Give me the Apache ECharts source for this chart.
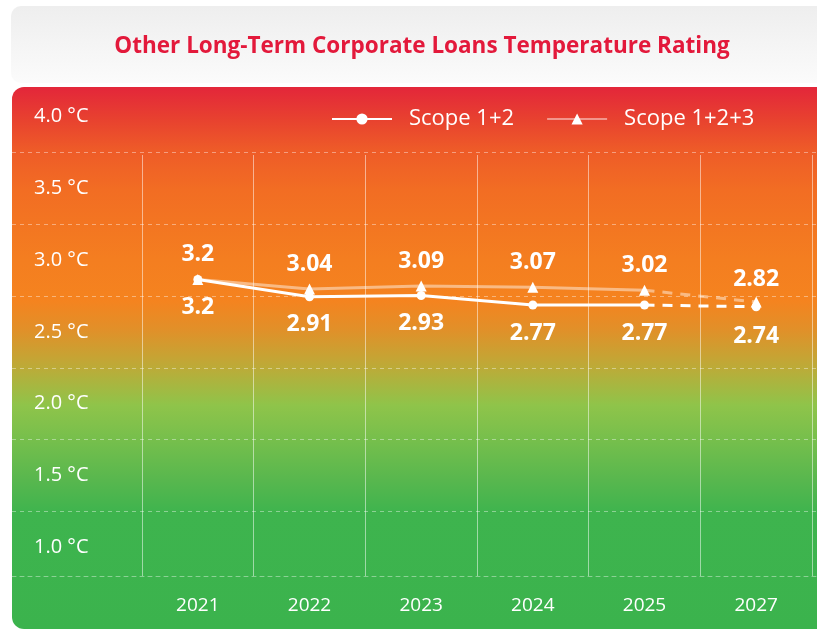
<!DOCTYPE html>
<html>
<head>
<meta charset="utf-8">
<title>Other Long-Term Corporate Loans Temperature Rating</title>
<script src="https://cdn.jsdelivr.net/npm/echarts@6/dist/echarts.min.js"></script>
<style>
    html, body { margin: 0; padding: 0; background: #fff; }
    #chart { width: 817px; height: 630px; }
</style>
</head>
<body>
<div id="chart"></div>
<script>
// 数据
var years = ['2021', '2022', '2023', '2024', '2025', '2027'];
var scope12 = [3.2, 2.91, 2.93, 2.77, 2.77, 2.74];
var scope123 = [3.2, 3.04, 3.09, 3.07, 3.02, 2.82];
var tempLabels = [1.0, 1.5, 2.0, 2.5, 3.0, 3.5, 4.0];
var tempBands = [1.25, 1.75, 2.25, 2.75, 3.25, 3.75];
var lastActual = 4; // 2025, after that the line is a projection (dashed)

(function () {
    var myChart = echarts.init(document.getElementById('chart'));
    var font = '"Open Sans", "DejaVu Sans", sans-serif';

    function solidPart(arr) {
        return arr.map(function (v, i) { return i <= lastActual ? v : '-'; });
    }
    function dashedPart(arr) {
        return arr.map(function (v, i) { return i >= lastActual ? v : '-'; });
    }
    function dashedSize(size) {
        return function (val, params) { return params.dataIndex === lastActual ? 0 : size; };
    }
    function valueLabel(onlyLast) {
        return function (p) {
            if (onlyLast && p.dataIndex === lastActual) return '';
            return String(p.value);
        };
    }

    var labelStyle = {
        color: '#fff',
        fontSize: 23,
        fontWeight: 'bold',
        fontFamily: font
    };

    var panelGradient = new echarts.graphic.LinearGradient(0, 0, 0, 1, [
        {offset: 0, color: '#e3263a'},
        {offset: 0.061, color: '#e8422f'},
        {offset: 0.116, color: '#ee5b28'},
        {offset: 0.19, color: '#f26d23'},
        {offset: 0.319, color: '#f47e20'},
        {offset: 0.393, color: '#f5831f'},
        {offset: 0.448, color: '#e19029'},
        {offset: 0.518, color: '#bcab38'},
        {offset: 0.587, color: '#8fc44a'},
        {offset: 0.651, color: '#76bf4c'},
        {offset: 0.725, color: '#58b74e'},
        {offset: 0.786, color: '#3eb44e'},
        {offset: 1, color: '#3bb34d'}
    ]);

    var option = {
        animation: false,
        graphic: [
            {
                type: 'rect', z: -20, silent: true,
                shape: {x: 11, y: 6, width: 840, height: 77, r: 10},
                style: {fill: new echarts.graphic.LinearGradient(0, 0, 0, 1, [
                    {offset: 0, color: '#eeeeee'},
                    {offset: 1, color: '#fbfbfb'}
                ])}
            },
            {
                type: 'rect', z: -20, silent: true,
                shape: {x: 12, y: 87, width: 840, height: 542, r: 12},
                style: {fill: panelGradient}
            },
            {
                type: 'text', z: 10, silent: true,
                style: {
                    text: 'Other Long-Term Corporate Loans Temperature Rating',
                    x: 422, y: 47,
                    textAlign: 'center',
                    textVerticalAlign: 'middle',
                    fill: '#e3193b',
                    font: 'bold 22.5px ' + font
                }
            }
        ],
        legend: {
            data: ['Scope 1+2', 'Scope 1+2+3'],
            left: 326,
            top: 103,
            itemWidth: 60,
            itemHeight: 14,
            itemGap: 32,
            textStyle: {
                color: '#fff',
                fontSize: 22,
                fontFamily: font,
                padding: [0, 0, 0, 12]
            }
        },
        grid: [
            {left: 12, right: 0, top: 88, bottom: 54},
            {left: 142, right: 5, top: 155, bottom: 54}
        ],
        xAxis: [
            {
                gridIndex: 0,
                type: 'category',
                data: years,
                axisLine: {
                    lineStyle: {color: 'rgba(255,255,255,.4)', type: [4, 4]}
                },
                axisTick: {show: false},
                axisLabel: {show: false}
            },
            {
                gridIndex: 1,
                type: 'category',
                data: years,
                boundaryGap: true,
                axisLine: {show: false},
                axisTick: {show: false},
                axisLabel: {
                    color: '#fff',
                    fontSize: 19,
                    fontFamily: font,
                    margin: 20
                },
                splitLine: {
                    show: true,
                    lineStyle: {color: 'rgba(255,255,255,.5)', width: 1}
                }
            }
        ],
        yAxis: [
            {
                gridIndex: 0,
                type: 'value',
                min: 0.8,
                max: 4.2,
                axisLine: {show: false},
                axisTick: {show: false, customValues: tempBands},
                axisLabel: {
                    inside: true,
                    margin: 22,
                    customValues: tempLabels,
                    color: '#fff',
                    fontSize: 20,
                    fontFamily: font,
                    padding: [4, 0, 0, 0],
                    formatter: function (v) { return v.toFixed(1) + ' °C'; }
                },
                splitLine: {
                    show: true,
                    lineStyle: {color: 'rgba(255,255,255,.4)', type: [4, 4]}
                }
            },
            {
                // 折线单独的刻度（不显示）
                gridIndex: 1,
                type: 'value',
                min: -1.8,
                max: 5.3,
                show: false
            }
        ],
        series: [
            {
                name: 'Scope 1+2+3',
                type: 'line',
                xAxisIndex: 1,
                yAxisIndex: 1,
                z: 2,
                data: solidPart(scope123),
                symbol: 'triangle',
                symbolSize: 11,
                itemStyle: {color: '#fff'},
                lineStyle: {color: 'rgba(255,255,255,.45)', width: 3},
                label: Object.assign({show: true, position: 'top', distance: 8}, labelStyle)
            },
            {
                name: 'Scope 1+2+3 projection',
                type: 'line',
                xAxisIndex: 1,
                yAxisIndex: 1,
                z: 2,
                data: dashedPart(scope123),
                symbol: 'triangle',
                symbolSize: dashedSize(11),
                itemStyle: {color: '#fff'},
                lineStyle: {color: 'rgba(255,255,255,.45)', width: 3, type: [10, 8]},
                label: Object.assign({show: true, position: 'top', distance: 6, formatter: valueLabel(true)}, labelStyle)
            },
            {
                name: 'Scope 1+2',
                type: 'line',
                xAxisIndex: 1,
                yAxisIndex: 1,
                z: 3,
                data: solidPart(scope12),
                symbol: 'circle',
                symbolSize: 9,
                itemStyle: {color: '#fff'},
                lineStyle: {color: '#fff', width: 3},
                label: Object.assign({show: true, position: 'bottom', distance: 12}, labelStyle)
            },
            {
                name: 'Scope 1+2 projection',
                type: 'line',
                xAxisIndex: 1,
                yAxisIndex: 1,
                z: 3,
                data: dashedPart(scope12),
                symbol: 'circle',
                symbolSize: dashedSize(9),
                itemStyle: {color: '#fff'},
                lineStyle: {color: '#fff', width: 3, type: [10, 8]},
                label: Object.assign({show: true, position: 'bottom', distance: 14, formatter: valueLabel(true)}, labelStyle)
            }
        ]
    };

    myChart.setOption(option);
    window.addEventListener('resize', function () {
        myChart.resize();
    });
})();
</script>
</body>
</html>
